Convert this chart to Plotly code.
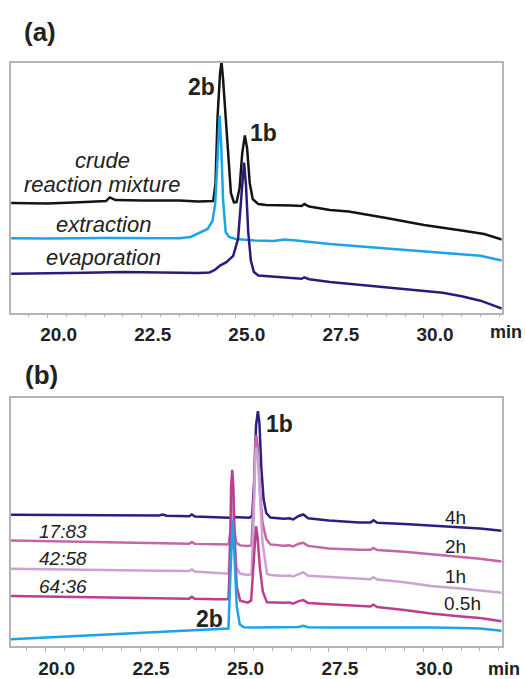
import plotly.graph_objects as go

# ---------------- Panel (a) data (time in min, detector signal, arb. units) ----------------
crude_t = [19.03, 20.0, 21.0, 21.55, 21.65, 21.8, 22.5, 23.5, 24.0, 24.40, 24.46, 24.515, 24.58, 24.62,
           24.66, 24.73, 24.80, 24.87, 24.95, 25.02, 25.10, 25.17, 25.24, 25.30, 25.37, 25.45, 25.6,
           25.8, 26.5, 26.75, 26.82, 26.95, 27.5, 28.0, 29.0, 30.0, 31.0, 31.6, 32.07]
crude_s = [110.0, 109.5, 111.0, 112.0, 115.7, 113.0, 112.5, 112.5, 111.5, 112.0, 130.0, 197.0, 240.0, 252.0,
           235.0, 197.0, 150.0, 120.0, 110.7, 111.0, 125.0, 160.0, 178.0, 165.0, 130.0, 114.0, 109.0,
           108.0, 107.5, 107.0, 109.0, 106.5, 103.0, 101.5, 95.0, 88.0, 82.5, 79.0, 73.5]

extr_t = [19.03, 20.0, 21.5, 22.5, 23.5, 23.8, 24.05, 24.25, 24.38, 24.45, 24.50, 24.57, 24.61, 24.66,
          24.73, 24.82, 25.0, 25.5, 26.0, 26.3, 26.6, 27.5, 28.5, 29.5, 30.5, 31.5, 32.07]
extr_s = [74.7, 74.5, 75.0, 75.0, 74.7, 76.0, 80.0, 84.0, 92.0, 109.0, 144.0, 198.0, 170.0, 114.0,
          81.0, 76.0, 74.0, 72.5, 72.0, 73.5, 72.5, 69.0, 66.0, 63.0, 60.5, 57.0, 52.3]

evap_t = [19.03, 20.0, 21.0, 22.0, 23.0, 24.0, 24.3, 24.45, 24.58, 24.75, 24.93, 25.06, 25.15, 25.22,
          25.27, 25.33, 25.40, 25.48, 25.6, 26.0, 26.75, 26.82, 26.95, 27.5, 28.5, 29.5, 30.5, 31.0,
          31.5, 32.07]
evap_s = [39.0, 39.3, 40.0, 40.7, 40.0, 39.7, 40.3, 43.0, 47.3, 50.7, 57.0, 74.0, 118.0, 150.7,
          128.0, 80.7, 52.0, 40.7, 37.3, 36.0, 34.0, 35.5, 33.5, 30.7, 27.0, 23.5, 20.0, 16.5,
          12.0, 4.0]

# ---------------- Panel (b) data ----------------
h4_t = [19.08, 20.0, 21.0, 22.0, 23.0, 23.1, 23.2, 23.8, 23.87, 23.95, 24.5, 24.85, 24.95, 25.4, 25.47,
        25.52, 25.57, 25.62, 25.66, 25.71, 25.77, 25.84, 25.95, 26.3, 26.45, 26.55, 26.7, 26.82, 26.95,
        27.5, 28.3, 28.6, 28.68, 28.78, 29.5, 30.2, 30.6, 31.0, 31.5, 32.075]
h4_s = [132.3, 132.0, 131.7, 131.3, 131.5, 132.5, 131.3, 130.8, 132.5, 130.5, 129.7, 129.2, 130.0, 129.3, 131.5,
        165.0, 222.0, 236.3, 224.0, 180.0, 148.0, 134.0, 129.5, 128.3, 128.8, 127.5, 131.0, 132.5, 128.7,
        126.5, 124.6, 124.4, 126.8, 124.2, 123.0, 121.5, 121.0, 119.8, 118.5, 116.3]

h2_t = [19.08, 20.0, 21.0, 22.0, 23.0, 23.8, 23.87, 23.95, 24.5, 24.84, 24.89, 24.94, 24.99, 25.05, 25.15,
        25.35, 25.45, 25.51, 25.55, 25.58, 25.62, 25.67, 25.74, 25.84, 25.95, 26.3, 26.45, 26.55, 26.7,
        26.82, 26.95, 27.5, 28.3, 28.6, 28.68, 28.78, 29.5, 30.2, 31.0, 31.5, 32.075]
h2_s = [106.3, 105.7, 105.0, 104.4, 103.8, 103.2, 105.0, 103.0, 102.6, 102.3, 115.0, 135.0, 118.0, 104.0, 101.5,
        100.8, 101.5, 150.0, 205.0, 212.3, 200.0, 160.0, 125.0, 108.0, 102.5, 101.2, 101.5, 100.4, 103.2,
        104.0, 101.0, 98.3, 97.2, 97.0, 99.0, 96.8, 95.0, 92.6, 90.0, 88.0, 85.3]

h1_t = [19.08, 20.0, 21.0, 22.0, 23.0, 23.8, 23.87, 23.95, 24.5, 24.84, 24.89, 24.94, 24.99, 25.05, 25.15,
        25.35, 25.45, 25.51, 25.55, 25.58, 25.62, 25.67, 25.74, 25.86, 25.95, 26.3, 26.45, 26.55, 26.7,
        26.82, 26.95, 27.5, 28.3, 28.6, 28.68, 28.78, 29.5, 30.2, 31.0, 31.5, 32.075]
h1_s = [78.0, 77.4, 76.8, 76.2, 75.9, 75.7, 77.3, 75.3, 74.0, 73.0, 110.0, 155.0, 120.0, 80.0, 73.0,
        71.7, 72.5, 130.0, 190.0, 200.0, 188.0, 150.0, 105.0, 73.0, 71.7, 70.8, 71.2, 70.2, 73.0,
        74.5, 71.0, 69.7, 68.0, 67.6, 69.5, 67.2, 64.5, 60.7, 58.3, 56.5, 54.0]

h05_t = [19.08, 20.0, 21.0, 22.0, 23.0, 23.8, 23.87, 23.95, 24.5, 24.84, 24.88, 24.91, 24.94, 24.97, 25.01,
         25.06, 25.15, 25.35, 25.44, 25.50, 25.54, 25.57, 25.61, 25.67, 25.75, 25.86, 26.3, 26.45, 26.55,
         26.7, 26.82, 26.95, 27.5, 28.5, 28.6, 28.68, 28.78, 29.5, 30.2, 31.0, 31.5, 32.075]
h05_s = [50.7, 50.3, 49.9, 49.5, 48.8, 48.0, 49.8, 47.8, 47.5, 47.3, 90.0, 160.0, 177.3, 160.0, 100.0,
         60.0, 46.0, 44.0, 46.0, 80.0, 112.0, 120.7, 110.0, 80.0, 55.0, 44.3, 43.8, 44.2, 43.0,
         45.5, 46.5, 43.5, 42.3, 40.0, 40.2, 42.0, 39.6, 36.7, 33.0, 30.0, 28.5, 25.3]

std_t = [19.08, 20.0, 21.0, 22.0, 23.0, 23.8, 24.5, 24.84, 24.90, 24.95, 25.00, 25.06, 25.14, 25.25, 25.6,
         26.3, 26.7, 26.82, 26.95, 27.5, 28.5, 29.5, 30.2, 31.0, 31.5, 32.075]
std_s = [7.3, 9.0, 10.7, 12.7, 14.5, 15.7, 17.0, 18.0, 80.0, 127.0, 90.0, 40.0, 22.0, 19.3, 19.0,
         19.3, 19.5, 20.7, 19.3, 19.0, 19.2, 19.0, 19.0, 18.5, 18.0, 15.7]

tick_vals = [20.0, 22.5, 25.0, 27.5, 30.0]
tick_text = ["20.0", "22.5", "25.0", "27.5", "30.0"]

FONT = "Arial, Liberation Sans, sans-serif"
TXT = "#222222"
GRID = "#b4b4b4"

fig = go.Figure()

def add(t, s, color, ax):
    fig.add_trace(go.Scatter(x=t, y=s, mode="lines", line=dict(color=color, width=2.5),
                             xaxis="x" if ax == 1 else "x2", yaxis="y" if ax == 1 else "y2",
                             showlegend=False, hoverinfo="skip"))

add(crude_t, crude_s, "#141414", 1)
add(extr_t, extr_s, "#1ea3e6", 1)
add(evap_t, evap_s, "#2b1c7c", 1)

add(h4_t, h4_s, "#2b1f80", 2)
add(h2_t, h2_s, "#c466a8", 2)
add(h1_t, h1_s, "#cba2d1", 2)
add(h05_t, h05_s, "#bb3f8e", 2)
add(std_t, std_s, "#1ea3e6", 2)

xax = dict(range=[19.026, 32.065], showline=True, linecolor=GRID, linewidth=1.5, mirror=True,
           ticks="outside", ticklen=4, tickcolor=GRID, tickwidth=1, tickvals=tick_vals, ticktext=tick_text,
           ticklabelshift=11,
           tickfont=dict(family=FONT, size=19, color=TXT, weight="bold"), showgrid=False, zeroline=False,
           minor=dict(dtick=0.5, tick0=20, ticks="outside", ticklen=2.5, tickcolor=GRID, showgrid=False))
yax = dict(showline=True, linecolor=GRID, linewidth=1.5, mirror=True, showticklabels=False,
           ticks="", showgrid=False, zeroline=False)

fig.update_layout(
    width=525, height=679, margin=dict(l=0, r=0, t=0, b=0),
    paper_bgcolor="white", plot_bgcolor="white",
    xaxis=dict(xax, domain=[0.02095, 0.95562], anchor="y"),
    yaxis=dict(yax, domain=[0.53755, 0.90677], range=[0, 250.7], anchor="x"),
    xaxis2=dict(xax, domain=[0.02095, 0.95562], anchor="y2", range=[19.082, 32.075]),
    yaxis2=dict(yax, domain=[0.04374, 0.41090], range=[0, 249.3], anchor="x2"),
)

def ann(text, x, y, xref, yref, size, bold=False, italic=False):
    fig.add_annotation(text=text, x=x, y=y, xref=xref, yref=yref, showarrow=False,
                       xanchor="center", yanchor="middle",
                       font=dict(family=FONT, size=size, color=TXT,
                                 weight="bold" if bold else "normal",
                                 style="italic" if italic else "normal"))

# Panel labels and axis unit
ann("(a)", 0.0762, 0.9529, "paper", "paper", 26, bold=True)
ann("(b)", 0.0787, 0.4448, "paper", "paper", 26, bold=True)
ann("min", 0.9630, 0.5096, "paper", "paper", 18, bold=True)
ann("min", 0.9600, 0.0108, "paper", "paper", 18, bold=True)

# Panel (a) labels
ann("2b", 24.10, 226.6, "x", "y", 23, bold=True)
ann("1b", 25.74, 180.2, "x", "y", 23, bold=True)
ann("crude", 21.47, 153.0, "x", "y", 22, italic=True)
ann("reaction mixture", 21.47, 128.3, "x", "y", 22, italic=True)
ann("extraction", 21.48, 89.0, "x", "y", 22, italic=True)
ann("evaporation", 21.48, 55.0, "x", "y", 22, italic=True)

# Panel (b) labels
ann("1b", 26.204, 223.5, "x2", "y2", 23, bold=True)
ann("2b", 24.351, 27.9, "x2", "y2", 23, bold=True)
ann("17:83", 20.467, 115.0, "x2", "y2", 19, italic=True)
ann("42:58", 20.467, 88.3, "x2", "y2", 19, italic=True)
ann("64:36", 20.446, 60.0, "x2", "y2", 19, italic=True)
ann("4h", 30.851, 130.0, "x2", "y2", 19)
ann("2h", 30.851, 100.7, "x2", "y2", 19)
ann("1h", 30.858, 70.0, "x2", "y2", 19)
ann("0.5h", 31.049, 42.7, "x2", "y2", 19)

fig.write_html("out.html", config={"displayModeBar": False},
               post_script="document.body.style.margin='0';document.body.style.overflow='hidden';")
